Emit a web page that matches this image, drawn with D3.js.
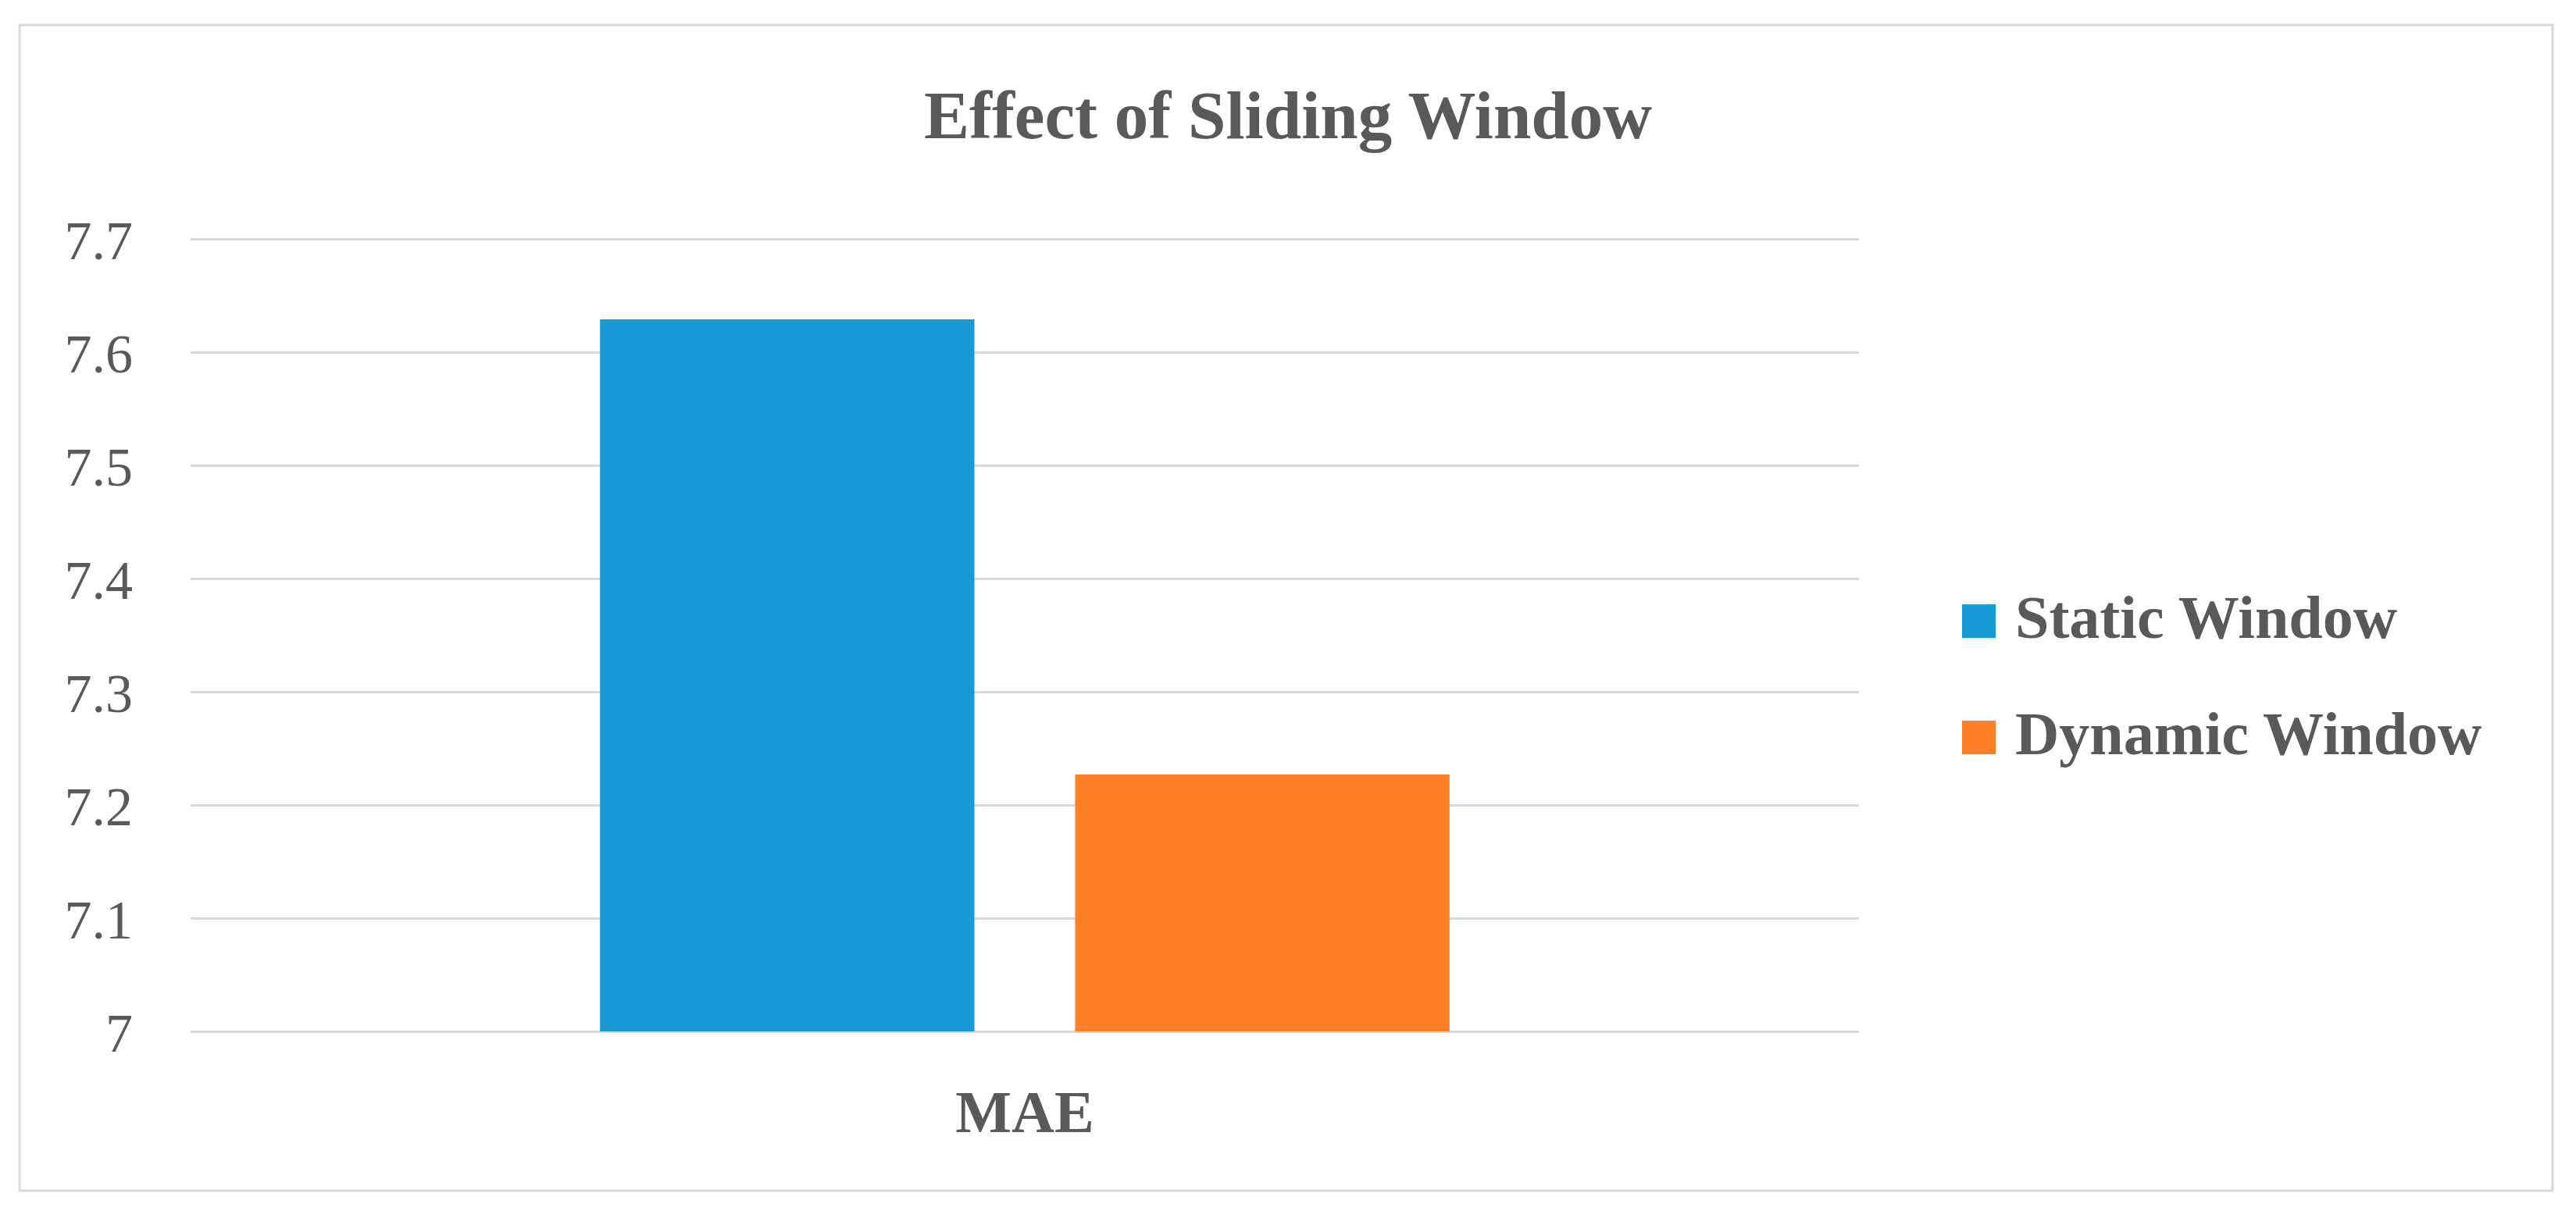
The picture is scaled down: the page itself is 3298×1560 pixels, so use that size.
<!DOCTYPE html>
<html>
<head>
<meta charset="utf-8">
<script src="https://cdn.jsdelivr.net/npm/d3@7"></script>
<style>
  html, body { margin: 0; padding: 0; background: #fff; }
  svg { display: block; }
</style>
</head>
<body>
<svg id="chart" width="3298" height="1560"></svg>
<script>
const title = "Effect of Sliding Window";
const categories = ["MAE"];
const seriesNames = ["Static Window", "Dynamic Window"];
const staticValues = [7.629];
const dynamicValues = [7.227];
const yTicks = [7, 7.1, 7.2, 7.3, 7.4, 7.5, 7.6, 7.7];
const colors = ["#199AD6", "#FE7F26"];

const seriesValues = [staticValues, dynamicValues];
const W = 3298, H = 1560;
const svg = d3.select("#chart");
const font = "'Liberation Serif', 'DejaVu Serif', serif";
const textColor = "#595959";

// outer border
svg.append("rect")
  .attr("x", 25).attr("y", 32).attr("width", 3243).attr("height", 1493)
  .attr("fill", "#fff").attr("stroke", "#d9d9d9").attr("stroke-width", 3);

const plot = { left: 244, right: 2380, top: 306, bottom: 1321 };

const y = d3.scaleLinear().domain([7, 7.7]).range([plot.bottom, plot.top]);
const x0 = d3.scaleBand().domain(categories).range([plot.left, plot.right])
  .paddingInner(0).paddingOuter(0.482);
const x1 = d3.scaleBand().domain(seriesNames).range([0, x0.bandwidth()])
  .paddingInner(0.212).paddingOuter(0);

// gridlines via axis
const yAxis = d3.axisLeft(y).tickValues(yTicks)
  .tickSize(-(plot.right - plot.left)).tickPadding(74)
  .tickFormat(d => d3.format("")(+d.toFixed(1)));
const gy = svg.append("g").attr("transform", `translate(${plot.left},0)`).call(yAxis);
gy.select(".domain").remove();
gy.selectAll(".tick line").attr("stroke", "#d9d9d9").attr("stroke-width", 3);
gy.selectAll(".tick text")
  .attr("font-family", font).attr("font-size", 70).attr("fill", textColor)
  .attr("dy", "0.36em");

// bars
const groups = svg.append("g").selectAll("g").data(categories).join("g")
  .attr("transform", d => `translate(${x0(d)},0)`);
groups.selectAll("rect")
  .data((d, i) => seriesNames.map((s, si) => ({ s, si, v: seriesValues[si][i] })))
  .join("rect")
  .attr("x", d => x1(d.s))
  .attr("width", x1.bandwidth())
  .attr("y", d => y(d.v))
  .attr("height", d => y(7) - y(d.v))
  .attr("fill", d => colors[d.si]);

// x axis labels
const xAxis = d3.axisBottom(x0).tickSize(0).tickPadding(0);
const gx = svg.append("g").attr("transform", `translate(0,${plot.bottom})`).call(xAxis);
gx.select(".domain").remove();
gx.selectAll(".tick text")
  .attr("font-family", font).attr("font-size", 76).attr("font-weight", "bold")
  .attr("fill", textColor).attr("y", 129).attr("dy", 0);

// title
svg.append("text").attr("x", 1649).attr("y", 177)
  .attr("text-anchor", "middle")
  .attr("font-family", font).attr("font-size", 87).attr("font-weight", "bold")
  .attr("fill", textColor).text(title);

// legend
const legend = svg.append("g");
const legendY = [817, 966];
seriesNames.forEach((s, i) => {
  legend.append("rect").attr("x", 2512).attr("y", legendY[i] - 43)
    .attr("width", 43).attr("height", 43).attr("fill", colors[i]);
  legend.append("text").attr("x", 2580).attr("y", legendY[i])
    .attr("font-family", font).attr("font-size", 78).attr("font-weight", "bold")
    .attr("fill", textColor).text(s);
});
</script>
</body>
</html>
